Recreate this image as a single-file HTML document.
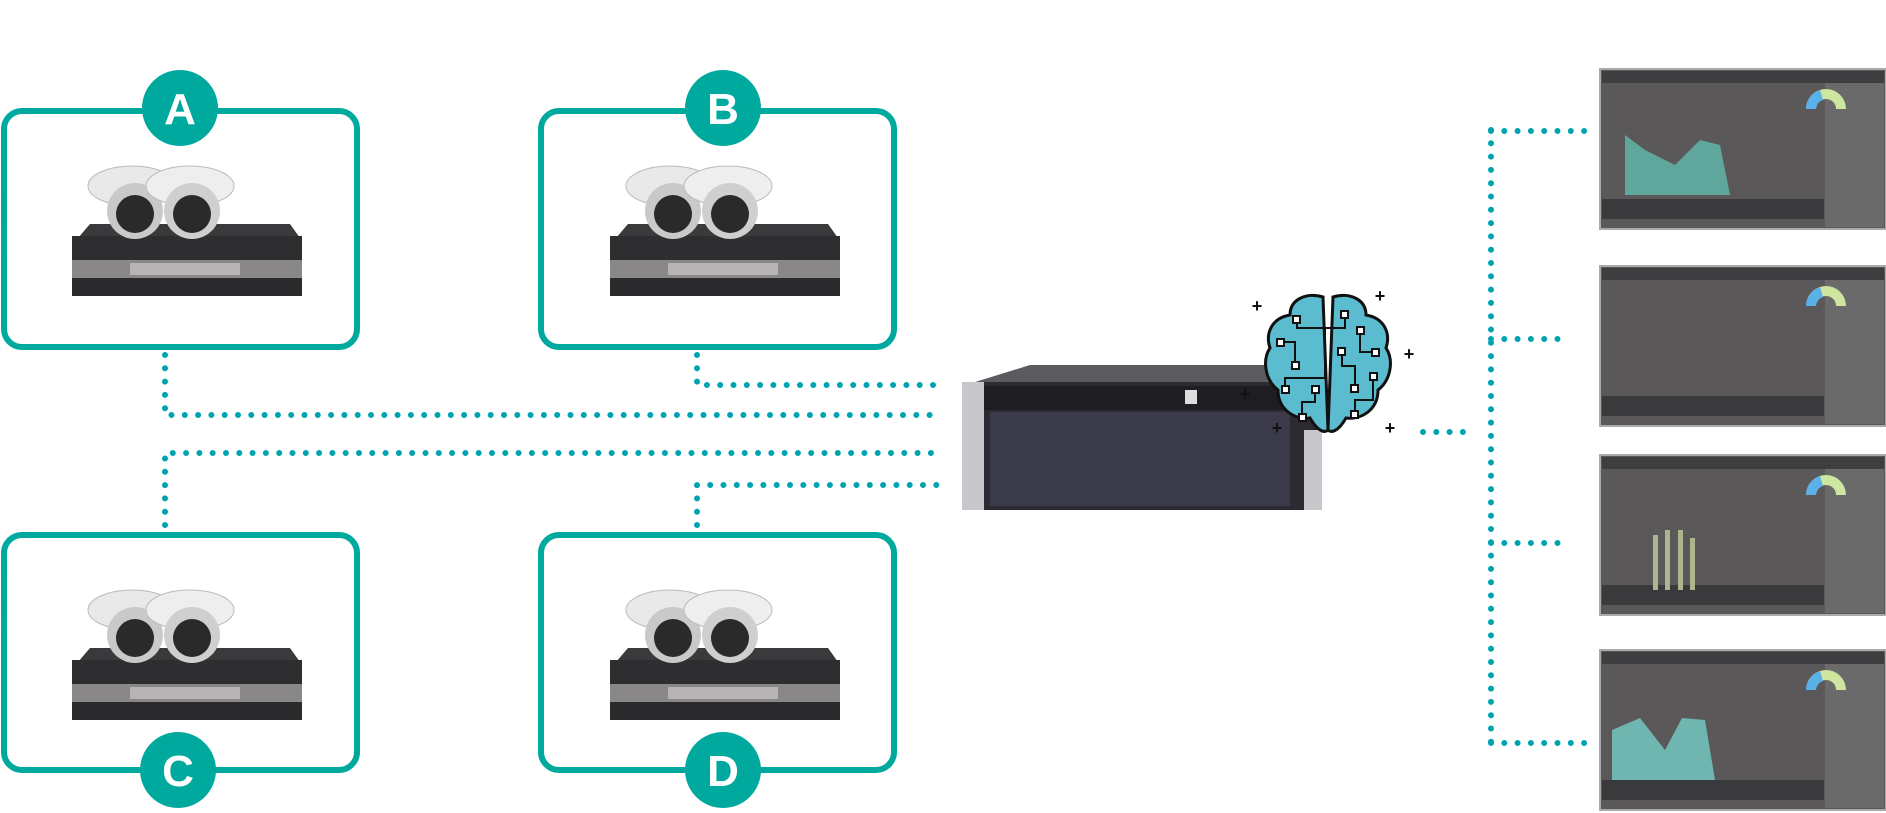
<!DOCTYPE html>
<html><head><meta charset="utf-8"><style>
html,body{margin:0;padding:0;background:#fff;}
svg{display:block;}
text{font-family:"Liberation Sans",sans-serif;font-weight:bold;}
</style></head><body>
<svg width="1886" height="813" viewBox="0 0 1886 813" xmlns="http://www.w3.org/2000/svg">
<defs>
<g id="cam">
  <path d="M8 72 L20 58 L220 58 L230 72 Z" fill="#3a3a3c"/>
  <rect x="2" y="70" width="230" height="24" fill="#2e2d30"/>
  <rect x="2" y="94" width="230" height="18" fill="#8a8788"/>
  <rect x="60" y="97" width="110" height="12" fill="#b8b4b6"/>
  <rect x="2" y="112" width="230" height="18" fill="#2a292b"/>
  <ellipse cx="62" cy="20" rx="44" ry="20" fill="#e9e9e9" stroke="#bbb"/>
  <circle cx="65" cy="45" r="28" fill="#c9c9c9"/>
  <circle cx="65" cy="48" r="19" fill="#2a2a2a"/>
  <ellipse cx="120" cy="20" rx="44" ry="20" fill="#eeeeee" stroke="#bbb"/>
  <circle cx="122" cy="45" r="28" fill="#cfcfcf"/>
  <circle cx="122" cy="48" r="19" fill="#2a2a2a"/>
</g>
<g id="scr">
  <rect x="0" y="0" width="286" height="160" fill="#5a5859" stroke="#aaa" stroke-width="2"/>
  <rect x="2" y="2" width="282" height="12" fill="#3e3d3f"/>
  <rect x="225" y="14" width="59" height="144" fill="#6b6a6b"/>
  <rect x="2" y="130" width="222" height="20" fill="#3a393b"/>
  <path d="M206 40 a20 20 0 0 1 40 0 h-10 a10 10 0 0 0 -20 0z" fill="#cde6a0"/>
  <path d="M206 40 a20 20 0 0 1 14 -19 l3 10 a10 10 0 0 0 -7 9z" fill="#5ab0e8"/>
</g>
</defs>

<g fill="none" stroke="#00a4b0" stroke-width="6" stroke-linecap="round" stroke-dasharray="0 13.3">
  <path d="M165 355 V415 H940"/>
  <path d="M697 355 V385 H940"/>
  <path d="M165 525 V453 H940"/>
  <path d="M697 525 V485 H940"/>
  <path d="M1423 432 H1470"/>
  <path d="M1491 130 V743"/>
  <path d="M1491 131 H1590"/>
  <path d="M1491 339 H1565"/>
  <path d="M1491 543 H1563"/>
  <path d="M1491 743 H1588"/>
</g>

<g fill="#fff" stroke="#00a99d" stroke-width="6">
  <rect x="4" y="111" width="353" height="236" rx="18"/>
  <rect x="541" y="111" width="353" height="236" rx="18"/>
  <rect x="4" y="535" width="353" height="235" rx="18"/>
  <rect x="541" y="535" width="353" height="235" rx="18"/>
</g>
<use href="#cam" x="70" y="166"/>
<use href="#cam" x="608" y="166"/>
<use href="#cam" x="70" y="590"/>
<use href="#cam" x="608" y="590"/>

<g fill="#00a99d">
  <circle cx="180" cy="108" r="38"/><circle cx="723" cy="108" r="38"/>
  <circle cx="178" cy="770" r="38"/><circle cx="723" cy="770" r="38"/>
</g>
<g fill="#fff" font-size="44" text-anchor="middle">
  <text x="180" y="124">A</text><text x="723" y="124">B</text>
  <text x="178" y="786">C</text><text x="723" y="786">D</text>
</g>

<path d="M975 382 L1030 365 L1280 365 L1320 382 Z" fill="#5c5c60"/>
<rect x="962" y="382" width="360" height="128" rx="4" fill="#2c2b31"/>
<rect x="962" y="382" width="22" height="128" fill="#c8c8cc"/>
<rect x="1304" y="430" width="18" height="80" fill="#c8c8cc"/>
<rect x="984" y="386" width="320" height="24" fill="#1e1e22"/>
<rect x="990" y="412" width="300" height="94" fill="#3a3a4a"/>
<rect x="1185" y="390" width="12" height="14" fill="#ddd"/>

<g stroke="#111" stroke-width="3" fill="#5bbccf">
  <path d="M1323 297 C1305 292 1290 300 1290 315 C1272 318 1265 333 1270 348 C1262 360 1265 380 1278 390 C1278 410 1295 420 1310 418 C1318 432 1325 433 1328 430 Z"/>
  <path d="M1333 297 C1351 292 1366 300 1366 315 C1384 318 1391 333 1386 348 C1394 360 1391 380 1378 390 C1378 410 1361 420 1346 418 C1338 432 1331 433 1328 430 Z"/>
</g>
<g stroke="#111" stroke-width="2" fill="none">
  <path d="M1297 320 V328 H1325 V378 H1285 V388"/><path d="M1280 342 H1295 V365"/>
  <path d="M1315 388 V402 H1302 V415"/><path d="M1308 328 H1345 V314"/>
  <path d="M1360 330 V352 H1375"/><path d="M1342 352 V366 H1355 V387"/>
  <path d="M1373 376 V400 H1355 V414"/>
</g>
<g fill="#fff" stroke="#111" stroke-width="2">
  <rect x="1293" y="316" width="7" height="7"/><rect x="1277" y="339" width="7" height="7"/>
  <rect x="1292" y="362" width="7" height="7"/><rect x="1282" y="386" width="7" height="7"/>
  <rect x="1312" y="386" width="7" height="7"/><rect x="1299" y="414" width="7" height="7"/>
  <rect x="1341" y="311" width="7" height="7"/><rect x="1357" y="327" width="7" height="7"/>
  <rect x="1372" y="349" width="7" height="7"/><rect x="1338" y="348" width="7" height="7"/>
  <rect x="1351" y="385" width="7" height="7"/><rect x="1370" y="373" width="7" height="7"/>
  <rect x="1351" y="411" width="7" height="7"/>
</g>
<g fill="#111" font-size="18" text-anchor="middle">
  <text x="1257" y="312">+</text><text x="1380" y="302">+</text>
  <text x="1245" y="400">+</text><text x="1277" y="434">+</text>
  <text x="1390" y="434">+</text><text x="1409" y="360">+</text>
</g>

<use href="#scr" x="1600" y="69"/>
<path d="M1625 135 L1645 150 L1675 165 L1700 140 L1720 145 L1730 195 L1625 195 Z" fill="#5fa79d"/>
<use href="#scr" x="1600" y="266"/>
<use href="#scr" x="1600" y="455"/>
<g fill="#aeb48d">
  <rect x="1653" y="535" width="5" height="55"/><rect x="1665" y="530" width="5" height="60"/>
  <rect x="1678" y="530" width="5" height="60"/><rect x="1690" y="538" width="5" height="52"/>
</g>
<use href="#scr" x="1600" y="650"/>
<path d="M1612 730 L1640 718 L1665 750 L1682 718 L1705 720 L1715 780 L1612 780 Z" fill="#6fb5b0"/>
</svg>
</body></html>
